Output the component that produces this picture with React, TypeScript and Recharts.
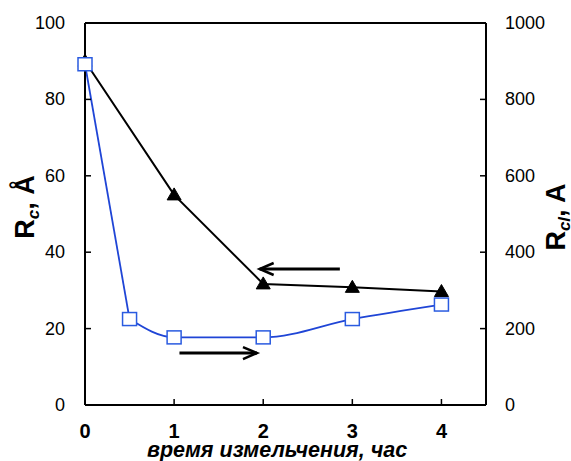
import React from 'react';
import {
  LineChart,
  Line,
  XAxis,
  YAxis,
  ReferenceLine,
} from 'recharts';

// R_c (left axis, Å) vs milling time
const rcData = [
  { x: 0, y: 90 },
  { x: 1, y: 55 },
  { x: 2, y: 31.7 },
  { x: 3, y: 30.8 },
  { x: 4, y: 29.7 },
];

// R_cl (right axis, Å) vs milling time
const rclData = [
  { x: 0, y: 892 },
  { x: 0.5, y: 225 },
  { x: 1, y: 177 },
  { x: 2, y: 177 },
  { x: 3, y: 225 },
  { x: 4, y: 263 },
];

const xTicks = [0, 1, 2, 3, 4];
const leftTicks = [0, 20, 40, 60, 80, 100];
const rightTicks = [0, 200, 400, 600, 800, 1000];

// arrows pointing at the axis each series belongs to (left-axis units)
const arrows = [
  { from: 2.86, to: 1.96, y: 35.6 },
  { from: 1.06, to: 1.93, y: 13.6 },
];

const FONT = '"Liberation Sans", Arial, sans-serif';
const BLUE = '#1f45d6';

const Triangle = (props: any) => {
  const { cx, cy } = props;
  if (cx == null || cy == null) return null;
  return (
    <path
      d={`M${cx},${cy - 7} L${cx + 7},${cy + 5} L${cx - 7},${cy + 5} Z`}
      fill="#000"
      stroke="#000"
      strokeWidth={1}
    />
  );
};

const Square = (props: any) => {
  const { cx, cy } = props;
  if (cx == null || cy == null) return null;
  return (
    <rect
      x={cx - 7}
      y={cy - 6.5}
      width={14}
      height={13}
      fill="#fff"
      stroke="#2a5be0"
      strokeWidth={1.5}
    />
  );
};

const Arrow = (props: any) => {
  const { x1, y1, x2, y2 } = props;
  const dir = x2 > x1 ? 1 : -1;
  return (
    <g stroke="#000" fill="none" strokeWidth={3}>
      <line x1={x1} y1={y1} x2={x2} y2={y2} />
      <path
        d={`M${x2 - dir * 14},${y2 - 6} L${x2},${y2} L${x2 - dir * 14},${y2 + 6}`}
        strokeWidth={2.5}
      />
    </g>
  );
};

const BottomTick = (props: any) => {
  const { x, y, payload } = props;
  return (
    <g>
      {payload.value !== 0 && <line x1={x} y1={y} x2={x} y2={y - 6} stroke="#000" strokeWidth={1.5} />}
      <text x={x} y={y + 33} textAnchor="middle" fontFamily={FONT} fontSize={20} fontWeight="bold" fill="#000">
        {payload.value}
      </text>
    </g>
  );
};

const LeftTick = (props: any) => {
  const { x, y, payload } = props;
  return (
    <g>
      <line x1={x} y1={y} x2={x + 6} y2={y} stroke="#000" strokeWidth={1.5} />
      <text x={x - 20} y={y + 6} textAnchor="end" fontFamily={FONT} fontSize={18} fill="#000">
        {payload.value}
      </text>
    </g>
  );
};

const RightTick = (props: any) => {
  const { x, y, payload } = props;
  return (
    <g>
      <line x1={x} y1={y} x2={x - 6} y2={y} stroke="#000" strokeWidth={1.5} />
      <text x={x + 19} y={y + 6} textAnchor="start" fontFamily={FONT} fontSize={18} fill="#000">
        {payload.value}
      </text>
    </g>
  );
};

const LeftLabel = (props: any) => {
  const vb = props.viewBox || { x: 0, y: 23, height: 382 };
  const cx = vb.x + 34;
  const cy = vb.y + 184;
  return (
    <text
      x={cx}
      y={cy}
      transform={`rotate(-90, ${cx}, ${cy})`}
      textAnchor="middle"
      fontFamily={FONT}
      fontWeight="bold"
      fontSize={27}
      fill="#000"
    >
      <tspan>R</tspan>
      <tspan fontSize={17} fontStyle="italic" dy={5}>c</tspan>
      <tspan dy={-5}>, Å</tspan>
    </text>
  );
};

const RightLabel = (props: any) => {
  const vb = props.viewBox || { x: 486, y: 23, height: 382 };
  const cx = vb.x + 79;
  const cy = vb.y + 194;
  return (
    <text
      x={cx}
      y={cy}
      transform={`rotate(-90, ${cx}, ${cy})`}
      textAnchor="middle"
      fontFamily={FONT}
      fontWeight="bold"
      fontSize={27}
      fill="#000"
    >
      <tspan>R</tspan>
      <tspan fontSize={17} fontStyle="italic" dy={5}>cl</tspan>
      <tspan dy={-5}>, A</tspan>
    </text>
  );
};

const BottomLabel = (props: any) => {
  const vb = props.viewBox || { x: 85, y: 405 };
  return (
    <text
      x={vb.x + 192}
      y={vb.y + 52}
      textAnchor="middle"
      fontFamily={FONT}
      fontWeight="bold"
      fontStyle="italic"
      fontSize={21.5}
      fill="#000"
    >
      время измельчения,  час
    </text>
  );
};

export default function App() {
  return (
    <div style={{ position: 'absolute', left: 0, top: 0, background: '#fff' }}>
      <LineChart width={571} height={461} margin={{ top: 23, right: 0, bottom: 0, left: 0 }}>
        <XAxis
          type="number"
          dataKey="x"
          domain={[0, 4.5]}
          ticks={xTicks}
          height={56}
          tickSize={0}
          tickMargin={0}
          tickLine={false}
          tick={<BottomTick />}
          axisLine={{ stroke: '#000', strokeWidth: 2 }}
          label={<BottomLabel />}
          allowDuplicatedCategory={false}
        />
        <YAxis
          yAxisId="left"
          orientation="left"
          type="number"
          domain={[0, 100]}
          ticks={leftTicks}
          width={85}
          tickSize={0}
          tickMargin={0}
          tickLine={false}
          tick={<LeftTick />}
          axisLine={{ stroke: '#000', strokeWidth: 2 }}
          label={<LeftLabel />}
        />
        <YAxis
          yAxisId="right"
          orientation="right"
          type="number"
          domain={[0, 1000]}
          ticks={rightTicks}
          width={85}
          tickSize={0}
          tickMargin={0}
          tickLine={false}
          tick={<RightTick />}
          axisLine={{ stroke: '#000', strokeWidth: 2 }}
          label={<RightLabel />}
        />
        <ReferenceLine yAxisId="left" y={100} stroke="#000" strokeWidth={2} />
        <Line
          yAxisId="left"
          data={rcData}
          dataKey="y"
          type="linear"
          stroke="#000"
          strokeWidth={2}
          dot={<Triangle />}
          activeDot={false}
          isAnimationActive={false}
        />
        {/* steep first drop is straight, the rest is smoothed */}
        <Line
          yAxisId="right"
          data={rclData.slice(0, 2)}
          dataKey="y"
          type="linear"
          stroke={BLUE}
          strokeWidth={1.8}
          dot={false}
          activeDot={false}
          isAnimationActive={false}
        />
        <Line
          yAxisId="right"
          data={rclData.slice(1)}
          dataKey="y"
          type="monotone"
          stroke={BLUE}
          strokeWidth={1.8}
          dot={<Square />}
          activeDot={false}
          isAnimationActive={false}
        />
        <Line
          yAxisId="right"
          data={rclData.slice(0, 1)}
          dataKey="y"
          stroke="none"
          dot={<Square />}
          activeDot={false}
          isAnimationActive={false}
        />
        {arrows.map((a, i) => (
          <ReferenceLine
            key={i}
            yAxisId="left"
            segment={[
              { x: a.from, y: a.y },
              { x: a.to, y: a.y },
            ]}
            shape={<Arrow />}
          />
        ))}
      </LineChart>
    </div>
  );
}
